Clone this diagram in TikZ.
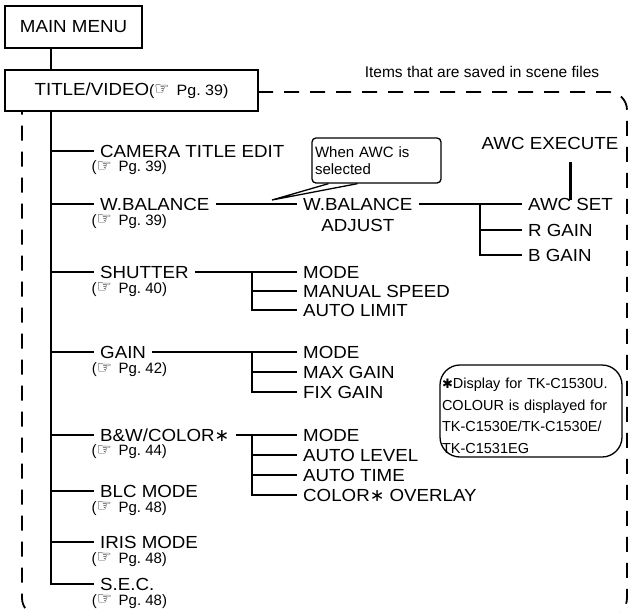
\documentclass[tikz,border=0pt]{standalone}
\usepackage{fontspec}
\setmainfont{Liberation Sans}
\newfontfamily\menufont[FakeStretch=1.07]{Liberation Sans}
\newfontfamily\symfont{DejaVu Sans}
\newcommand{\pgref}[1]{(\raisebox{0.5pt}[8pt][0pt]{\symfont\fontsize{17}{17}\selectfont ☞}\,~Pg.~#1)}
\newcommand{\astsym}{{\symfont ∗}}

\begin{document}
\begin{tikzpicture}[x=1pt, y=-1pt,
    line/.style={line width=2.2pt},
    thinline/.style={line width=1.3pt},
    box/.style={draw, line width=1.8pt, fill=white,
                font=\menufont\fontsize{17.5}{20}\selectfont},
    item/.style={font=\menufont\fontsize{17.5}{20}\selectfont, anchor=west,
                 inner xsep=6pt, inner ysep=2pt, text height=12.5pt, text depth=0pt},
    pgnote/.style={font=\fontsize{15}{15}\selectfont, anchor=north west,
                   inner sep=1pt, label distance=3.5pt},
    scenebox/.style={dash pattern=on 15pt off 11pt, line width=1.8pt,
                     rounded corners=18pt},
    note/.style={draw, thinline, fill=white, align=left,
                 font=\fontsize{14.5}{21.5}\selectfont}
]
    \clip (0,0) rectangle (629,611);

    % Scene file region
    \draw[scenebox] (258,92) -- (627,92) -- (627,616) -- (22,616) -- (22,92) -- (40,92);
    \node[font=\fontsize{15.5}{18}\selectfont] (scenetxt) at (482,72)
        {Items that are saved in scene files};

    % Main menu and title
    \node[box, minimum width=137pt, minimum height=42pt] (main) at (73.5,27) {MAIN MENU};
    \node[box, minimum width=253pt, minimum height=41pt] (title) at (131.5,90.5)
        {TITLE/VIDEO{\fontsize{15}{15}\selectfont\pgref{39}}};
    \coordinate (trunk) at ([xshift=47pt]title.south west);

    % Menu items
    \node[item, label={[pgnote]south west:\pgref{39}}] (camtitle) at (94,151) {CAMERA TITLE EDIT};
    \node[item, label={[pgnote]south west:\pgref{39}}] (wbal) at (94,204) {W.BALANCE};
    \node[item, label={[pgnote]south west:\pgref{40}}] (shutter) at (94,272) {SHUTTER};
    \node[item, label={[pgnote]south west:\pgref{42}}] (gain) at (94,352) {GAIN};
    \node[item, label={[pgnote]south west:\pgref{44}}] (bwcolor) at (94,435) {B\&W/COLOR\astsym};
    \node[item, label={[pgnote]south west:\pgref{48}}] (blc) at (94,491) {BLC MODE};
    \node[item, label={[pgnote]south west:\pgref{48}}] (iris) at (94,542) {IRIS MODE};
    \node[item, label={[pgnote]south west:\pgref{48}}] (sec) at (94,584) {S.E.C.};

    % White balance
    \node[item, label={[item, anchor=north, inner ysep=6pt]south:ADJUST}] (wbadj) at (297,204) {W.BALANCE};
    \node[item] (awcset) at (522,204) {AWC SET};
    \node[item] (rgain) at (522,230) {R GAIN};
    \node[item] (bgain) at (522,255) {B GAIN};
    \node[item, anchor=center] (awcexec) at (550,143) {AWC EXECUTE};

    % Shutter
    \node[item] (shmode) at (297,272) {MODE};
    \node[item] (shspeed) at (297,291) {MANUAL SPEED};
    \node[item] (shlimit) at (297,310) {AUTO LIMIT};

    % Gain
    \node[item] (gnmode) at (297,352) {MODE};
    \node[item] (gnmax) at (297,372) {MAX GAIN};
    \node[item] (gnfix) at (297,392) {FIX GAIN};

    % B&W/Color
    \node[item] (bwmode) at (297,435) {MODE};
    \node[item] (bwlevel) at (297,455) {AUTO LEVEL};
    \node[item] (bwtime) at (297,475) {AUTO TIME};
    \node[item] (bwoverlay) at (297,495) {COLOR\astsym\ OVERLAY};

    % Notes
    \node[note, rounded corners=4pt, text width=123pt, inner xsep=3pt,
          minimum height=45pt, font=\fontsize{15}{17}\selectfont] (callout) at (376.5,160.5)
        {When AWC is\\selected};
    \node[note, rounded corners=20pt, text width=178pt, inner xsep=2pt, inner ysep=3pt,
          minimum height=92pt] (note) at (531,411)
        {\rule{0pt}{20pt}{\symfont\fontsize{13}{13}\selectfont ✱}Display for TK-C1530U.\\COLOUR is displayed for\\TK-C1530E/TK-C1530E/\\TK-C1531EG};
    \coordinate (tip) at (272,200);
    \draw[thinline] ([xshift=-48pt]callout.south) -- (tip) -- ([xshift=-19pt]callout.south);

    % Connectors
    \draw[line] (main.south -| trunk) -- (title.north -| trunk);
    \draw[line] (trunk) |- (sec.west);
    \foreach \n in {camtitle, wbal, shutter, gain, bwcolor, blc, iris}
        \draw[line] (trunk |- \n.west) -- (\n.west);

    \coordinate (bx) at (252,0);
    \coordinate (wbx) at (480,0);
    \draw[line] (wbal.east) -- (wbadj.west);
    \draw[line] (wbadj.east) -- (awcset.west);
    \draw[line] (wbx |- awcset.west) |- (bgain.west);
    \draw[line] (wbx |- rgain.west) -- (rgain.west);
    \draw[line] ([yshift=-4pt]awcset.north) -- ([yshift=-11pt]awcset.north |- awcexec.south);

    \draw[line] (shutter.east) -- (shmode.west);
    \draw[line] (bx |- shmode.west) |- (shlimit.west);
    \draw[line] (bx |- shspeed.west) -- (shspeed.west);

    \draw[line] (gain.east) -- (gnmode.west);
    \draw[line] (bx |- gnmode.west) |- (gnfix.west);
    \draw[line] (bx |- gnmax.west) -- (gnmax.west);

    \draw[line] (bwcolor.east) -- (bwmode.west);
    \draw[line] (bx |- bwmode.west) |- (bwoverlay.west);
    \draw[line] (bx |- bwlevel.west) -- (bwlevel.west);
    \draw[line] (bx |- bwtime.west) -- (bwtime.west);
\end{tikzpicture}
\end{document}
